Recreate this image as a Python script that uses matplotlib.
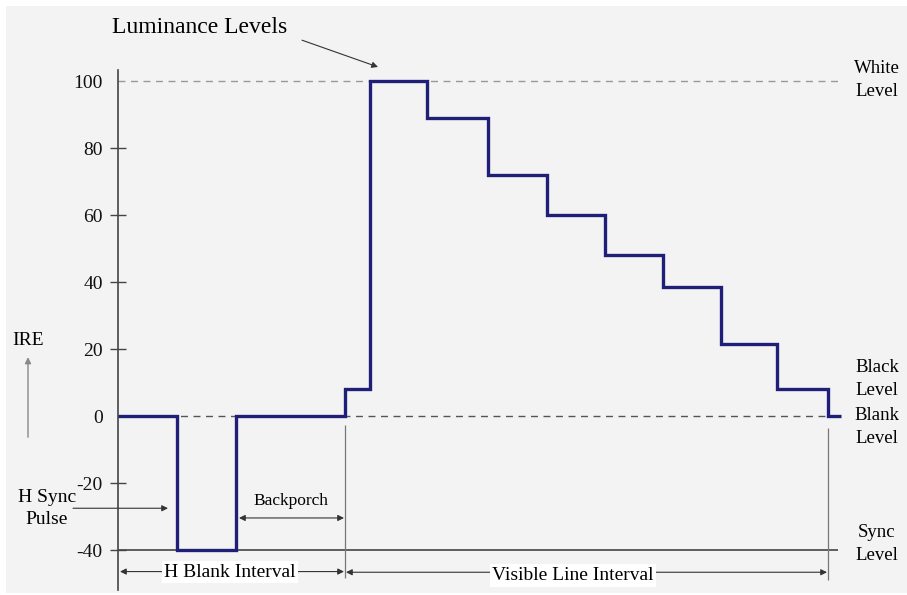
import matplotlib.pyplot as plt
from matplotlib.patches import Rectangle

# =============================
# DATA
# =============================
# step edges (time, arbitrary units) and IRE level held on each step
step_edges = [0, 59, 118, 227, 252, 309, 370, 429, 487, 545, 603, 659, 710, 723]
step_levels = [0, -40, 0, 8, 100, 89, 72, 60, 48, 38.5, 21.5, 8, 0]

y_ticks = [100, 80, 60, 40, 20, 0, -20, -40]
y_ticks_no_mark = [100, 0]

white_level = 100
blank_level = 0
sync_level = -40

hblank_end = 227
visible_end = 710

right_labels = ["White\nLevel", "Black\nLevel", "Blank\nLevel", "Sync\nLevel"]
right_label_y = [100.3, 11, -3.3, -38.2]

# =============================
# STYLE
# =============================
W, H = 907, 595
wave_color = "#1f1f78"
axis_color = "#444444"
bg_gray = "#f3f3f3"
plt.rcParams["font.family"] = ["Liberation Serif", "DejaVu Serif"]

fig = plt.figure(figsize=(W / 100, H / 100), dpi=100)
fig.patch.set_facecolor("white")
fig.patches.append(Rectangle((6 / W, 2 / H), 1 - 6 / W, 587 / H,
                             transform=fig.transFigure, facecolor=bg_gray,
                             edgecolor="none", zorder=-10))

# axes: px 118 -> x=0, 3.35 px per IRE unit, 0 IRE at py 416
ax = fig.add_axes([118 / W, 5 / H, 742 / W, 520 / H])
ax.patch.set_alpha(0)
ax.set_xlim(0, 742)
ax.set_ylim(-51.9, 103.3)

for s in ["top", "right", "bottom"]:
    ax.spines[s].set_visible(False)
ax.spines["left"].set_color(axis_color)
ax.spines["left"].set_linewidth(1.2)

ax.set_xticks([])
ax.set_yticks(y_ticks)
ax.set_yticklabels([str(v) for v in y_ticks], fontsize=14, color="#111111")
ax.tick_params(axis="y", direction="inout", length=12, width=1.0,
               color=axis_color, pad=5)
for tick, v in zip(ax.yaxis.get_major_ticks(), y_ticks):
    if v in y_ticks_no_mark:
        tick.tick1line.set_visible(False)

# reference lines
ax.hlines(white_level, 0, 722, colors="#999999", linestyles=(0, (5, 4)), lw=1.0)
ax.hlines(blank_level, 0, 722, colors="#555555", linestyles=(0, (5, 4)), lw=1.0)
ax.hlines(sync_level, 0, 720, colors=axis_color, lw=1.2)

# waveform
ax.stairs(step_levels, step_edges, baseline=None, color=wave_color,
          linewidth=2.4, zorder=5)

# vertical interval markers
ax.vlines(hblank_end, -48.4, -2.7, colors="#777777", lw=0.9)
ax.vlines(visible_end, -48.9, -3.6, colors="#777777", lw=0.9)

arrow_kw = dict(arrowstyle="-|>", color="#333333", lw=0.8,
                mutation_scale=9, shrinkA=0, shrinkB=0)
both_kw = dict(arrowstyle="<|-|>", color="#333333", lw=0.8,
               mutation_scale=9, shrinkA=0, shrinkB=0)

# H Blank interval
ax.annotate("", xy=(2, -46.4), xytext=(hblank_end - 1, -46.4), arrowprops=both_kw)
ax.text(112, -46.6, "H Blank Interval", fontsize=14, ha="center", va="center",
        bbox=dict(facecolor="white", edgecolor="none", pad=2))

# Visible line interval
ax.annotate("", xy=(hblank_end + 1, -46.6), xytext=(visible_end - 1, -46.6),
            arrowprops=both_kw)
ax.text(455, -47.6, "Visible Line Interval", fontsize=14, ha="center", va="center",
        bbox=dict(facecolor="white", edgecolor="none", pad=2))

# Backporch
ax.annotate("", xy=(121, -30.4), xytext=(hblank_end - 1, -30.4), arrowprops=both_kw)
ax.text(173, -25.2, "Backporch", fontsize=12.5, ha="center", va="center")

# H Sync Pulse
ax.text(-71, -27.5, "H Sync\nPulse", fontsize=14, ha="center", va="center",
        linespacing=1.4, clip_on=False)
ax.annotate("", xy=(50, -27.5), xytext=(-45, -27.5), arrowprops=arrow_kw,
            annotation_clip=False)

# IRE
ax.text(-90, 22.5, "IRE", fontsize=14, ha="center", va="center", clip_on=False)
ax.annotate("", xy=(-90, 17.6), xytext=(-90, -6.3),
            arrowprops=dict(arrowstyle="-|>", color="#888888", lw=1.0,
                            mutation_scale=9, shrinkA=0, shrinkB=0),
            annotation_clip=False)

# Luminance Levels
ax.text(82, 116, "Luminance Levels", fontsize=17, ha="center", va="center",
        clip_on=False)
ax.annotate("", xy=(260, 104.2), xytext=(184, 112.2), arrowprops=arrow_kw,
            annotation_clip=False)

# right-hand level labels
for lab, yv in zip(right_labels, right_label_y):
    ax.text(759, yv, lab, fontsize=13.5, ha="center", va="center",
            linespacing=1.45, clip_on=False)

plt.savefig("out.png", dpi=100, facecolor=fig.get_facecolor())
plt.close()
